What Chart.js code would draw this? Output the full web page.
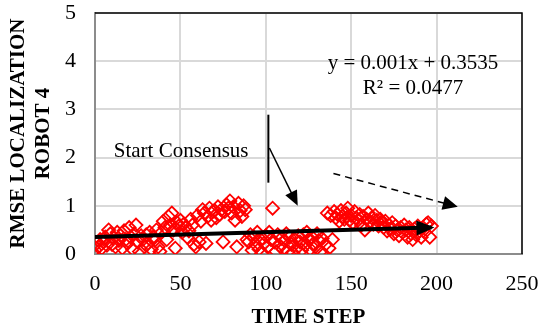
<!DOCTYPE html>
<html>
<head>
<meta charset="utf-8">
<script src="https://cdn.jsdelivr.net/npm/chart.js@4.4.0/dist/chart.umd.min.js"></script>
<style>
  html, body { margin: 0; padding: 0; background: #fff; }
  #wrap { width: 543px; height: 331px; }
</style>
</head>
<body>
<div id="wrap"><canvas id="rmseChart"></canvas></div>
<script>
// RMSE of robot 4 localization, one value per time step (index = step)
const rmse = [
  0.08, 0.22, 0.15, 0.30, 0.12, 0.25, 0.35, 0.18, 0.50, 0.42,
  0.20, 0.33, 0.15, 0.45, 0.28, 0.38, 0.12, 0.48, 0.30, 0.22,
  0.55, 0.35, 0.10, 0.42, 0.60, 0.25, 0.05, 0.38, 0.30, 0.15,
  0.40, 0.22, 0.45, 0.10, 0.35, 0.28, 0.50, 0.15, 0.05, 0.45,
  0.68, 0.55, 0.30, 0.78, 0.60, 0.85, 0.50, 0.12, 0.65, 0.58,
  0.70, 0.45, 0.62, 0.55, 0.35, 0.48, 0.72, 0.60, 0.20, 0.15,
  0.80, 0.25, 0.68, 0.92, 0.85, 0.22, 0.78, 0.95, 0.70, 0.88,
  0.90, 0.75, 0.98, 0.82, 0.92, 0.25, 0.88, 1.02, 0.95, 1.10,
  0.85, 0.98, 0.70, 0.15, 1.05, 0.90, 0.78, 1.00, 0.92, 0.30,
  0.25, 0.40, 0.08, 0.35, 0.20, 0.45, 0.10, 0.30, 0.02, 0.22,
  0.38, 0.15, 0.45, 0.30, 0.95, 0.25, 0.05, 0.40, 0.18, 0.32,
  0.10, 0.28, 0.42, 0.05, 0.35, 0.20, 0.02, 0.30, 0.12, 0.38,
  0.25, 0.08, 0.40, 0.18, 0.45, 0.30, 0.10, 0.35, 0.22, 0.15,
  0.42, 0.28, 0.05, 0.32, 0.00, 0.20, 0.85, 0.12, 0.80, 0.30,
  0.88, 0.75, 0.82, 0.68, 0.90, 0.78, 0.72, 0.85, 0.95, 0.70,
  0.80, 0.65, 0.88, 0.75, 0.70, 0.82, 0.60, 0.78, 0.50, 0.72,
  0.85, 0.68, 0.75, 0.62, 0.80, 0.70, 0.58, 0.72, 0.65, 0.55,
  0.68, 0.48, 0.60, 0.52, 0.65, 0.42, 0.58, 0.50, 0.38, 0.55,
  0.45, 0.60, 0.50, 0.35, 0.55, 0.42, 0.30, 0.52, 0.40, 0.58,
  0.48, 0.35, 0.55, 0.45, 0.62, 0.65, 0.35, 0.58
];

const xTicks = [0, 50, 100, 150, 200, 250];
const yTicks = [0, 1, 2, 3, 4, 5];

// linear trend y = 0.001x + 0.3535, from step 0 to step 197
const trendX = [0, 197];
const trendY = [0.3535, 0.5505];
const trendText = ['y = 0.001x + 0.3535', 'R² = 0.0477'];

// annotation anchors, in data units
const notes = {
  label: { x: 11, y: 2.12, text: 'Start Consensus' },
  marker: { x: 101.5, y0: 2.89, y1: 1.48 },
  solid: { x0: 102.1, y0: 2.20, x1: 118.7, y1: 1.00 },
  dashed: { x0: 139.6, y0: 1.67, x1: 212.4, y1: 0.98 },
  equation: { x: 186.2, y: [3.95, 3.44] }
};

Chart.defaults.font.family = '"Liberation Serif", "Times New Roman", serif';
Chart.defaults.color = '#000';

function arrowHead(ctx, fx, fy, tx, ty, len, half) {
  const a = Math.atan2(ty - fy, tx - fx);
  const bx = tx - len * Math.cos(a), by = ty - len * Math.sin(a);
  ctx.beginPath();
  ctx.moveTo(tx, ty);
  ctx.lineTo(bx + half * Math.sin(a), by - half * Math.cos(a));
  ctx.lineTo(bx - half * Math.sin(a), by + half * Math.cos(a));
  ctx.closePath();
  ctx.fill();
}

// line from a to b that stops `short` px before b, so the head covers the end
function shaft(ctx, ax, ay, bx, by, short) {
  const a = Math.atan2(by - ay, bx - ax);
  ctx.beginPath();
  ctx.moveTo(ax, ay);
  ctx.lineTo(bx - short * Math.cos(a), by - short * Math.sin(a));
  ctx.stroke();
}

const overlay = {
  id: 'overlay',
  afterDatasetsDraw(chart) {
    const { ctx, chartArea: area, scales: { x, y } } = chart;
    ctx.save();

    // plot frame, top and right edges
    ctx.strokeStyle = '#000';
    ctx.lineWidth = 1.5;
    ctx.beginPath();
    ctx.moveTo(area.left, area.top);
    ctx.lineTo(area.right, area.top);
    ctx.lineTo(area.right, area.bottom);
    ctx.stroke();

    ctx.fillStyle = '#000';

    // arrow tip on the trend line
    const tx0 = x.getPixelForValue(trendX[0]), ty0 = y.getPixelForValue(trendY[0]);
    const tx1 = x.getPixelForValue(trendX[1]), ty1 = y.getPixelForValue(trendY[1]);
    const ang = Math.atan2(ty1 - ty0, tx1 - tx0);
    arrowHead(ctx, tx0, ty0, tx1 + 3 * Math.cos(ang), ty1 + 3 * Math.sin(ang), 18, 7.5);

    // consensus start marker
    const m = notes.marker;
    ctx.lineWidth = 2;
    ctx.beginPath();
    ctx.moveTo(x.getPixelForValue(m.x), y.getPixelForValue(m.y0));
    ctx.lineTo(x.getPixelForValue(m.x), y.getPixelForValue(m.y1));
    ctx.stroke();

    // solid arrow
    const s = notes.solid;
    const sx0 = x.getPixelForValue(s.x0), sy0 = y.getPixelForValue(s.y0);
    const sx1 = x.getPixelForValue(s.x1), sy1 = y.getPixelForValue(s.y1);
    ctx.lineWidth = 1.5;
    shaft(ctx, sx0, sy0, sx1, sy1, 8);
    arrowHead(ctx, sx0, sy0, sx1, sy1, 15, 6.5);

    // dashed arrow
    const d = notes.dashed;
    const dx0 = x.getPixelForValue(d.x0), dy0 = y.getPixelForValue(d.y0);
    const dx1 = x.getPixelForValue(d.x1), dy1 = y.getPixelForValue(d.y1);
    ctx.setLineDash([7, 5]);
    shaft(ctx, dx0, dy0, dx1, dy1, 10);
    ctx.setLineDash([]);
    arrowHead(ctx, dx0, dy0, dx1, dy1, 15, 7);

    // text
    ctx.font = '21px "Liberation Serif", "Times New Roman", serif';
    ctx.textBaseline = 'middle';
    ctx.textAlign = 'left';
    ctx.fillText(notes.label.text, x.getPixelForValue(notes.label.x), y.getPixelForValue(notes.label.y));
    ctx.textAlign = 'center';
    trendText.forEach((t, i) => {
      ctx.fillText(t, x.getPixelForValue(notes.equation.x), y.getPixelForValue(notes.equation.y[i]));
    });

    ctx.restore();
  }
};

new Chart(document.getElementById('rmseChart'), {
  type: 'scatter',
  data: {
    datasets: [
      {
        label: 'Linear trend',
        data: trendX.map((v, i) => ({ x: v, y: trendY[i] })),
        showLine: true,
        borderColor: '#000',
        borderWidth: 4,
        pointRadius: 0,
        order: 1
      },
      {
        label: 'RMSE robot 4',
        data: rmse.map((v, i) => ({ x: i, y: v })),
        pointStyle: 'rectRot',
        pointRadius: 6.5,
        pointBorderWidth: 1.8,
        pointBorderColor: '#ff0000',
        pointBackgroundColor: 'rgba(255,255,255,0)',
        showLine: false,
        order: 2
      }
    ]
  },
  options: {
    responsive: true,
    maintainAspectRatio: false,
    animation: false,
    layout: { padding: { top: 13, right: 21, left: 0, bottom: 0 } },
    plugins: {
      legend: { display: false },
      tooltip: { enabled: false }
    },
    scales: {
      x: {
        type: 'linear',
        min: 0,
        max: 250,
        afterBuildTicks: (scale) => { scale.ticks = xTicks.map(v => ({ value: v })); },
        afterFit: (scale) => {
          scale.height = 77;
          scale.paddingLeft = 0;
          scale.paddingRight = 0;
        },
        ticks: { font: { size: 22 }, color: '#000', padding: 17, maxRotation: 0 },
        grid: { color: '#d9d9d9', lineWidth: 2, drawTicks: false },
        border: { color: '#8c8c8c', width: 2 },
        title: {
          display: true,
          text: 'TIME STEP',
          font: { size: 21, weight: 'bold', lineHeight: 1.15 },
          color: '#000',
          padding: { top: 0, bottom: 1 }
        }
      },
      y: {
        type: 'linear',
        min: 0,
        max: 5,
        afterBuildTicks: (scale) => { scale.ticks = yTicks.map(v => ({ value: v })); },
        afterFit: (scale) => {
          scale.width = 95;
          scale.paddingTop = 0;
          scale.paddingBottom = 0;
        },
        ticks: { font: { size: 22 }, color: '#000', padding: 19 },
        grid: { color: '#d9d9d9', lineWidth: 2, drawTicks: false },
        border: { color: '#8c8c8c', width: 2 },
        title: {
          display: true,
          text: ['RMSE LOCALIZATION', 'ROBOT 4'],
          font: { size: 21, weight: 'bold', lineHeight: 1.15 },
          color: '#000',
          padding: { top: 7, bottom: 0 }
        }
      }
    }
  },
  plugins: [overlay]
});
</script>
</body>
</html>
